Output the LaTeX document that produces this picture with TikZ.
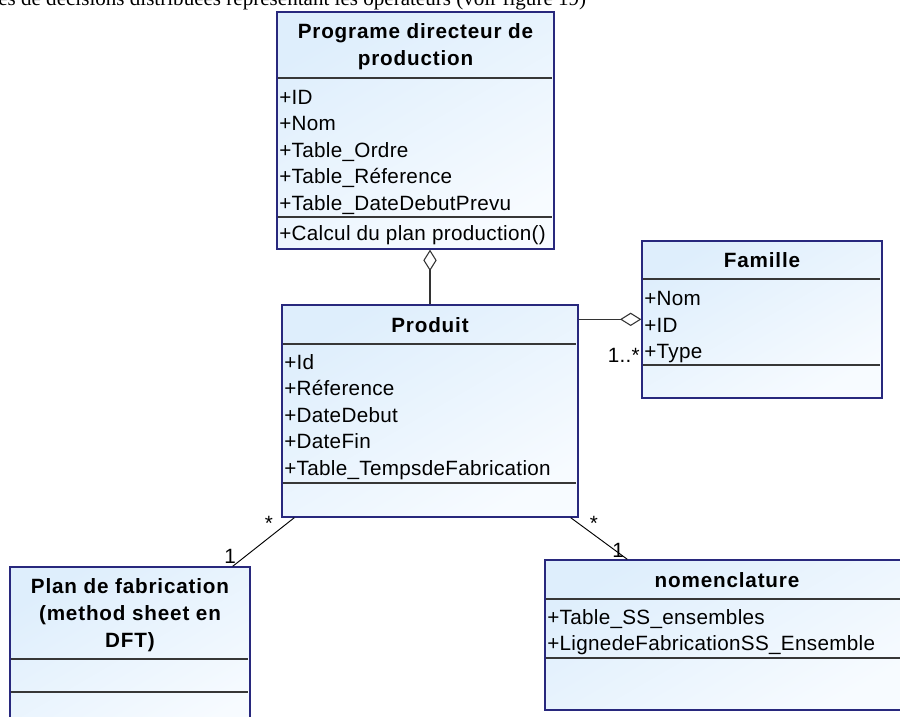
\documentclass[tikz,border=0pt]{standalone}
\usepackage{fontspec}
\setmainfont{Liberation Sans}
\newfontfamily\umlfont{Liberation Sans}[LetterSpace=1.5]
\newfontfamily\umltitlefont{Liberation Sans}[LetterSpace=4]
\newfontfamily\pagefont{Liberation Serif}
\usetikzlibrary{arrows.meta, fit, positioning}
\definecolor{boxline}{RGB}{40,40,125}
\definecolor{boxtop}{RGB}{222,238,252}
\definecolor{boxbot}{RGB}{247,251,255}
\definecolor{sepgray}{RGB}{55,55,55}

\begin{document}
\begin{tikzpicture}[
    x=0.75pt, y=-0.75pt,
    classbox/.style={
        draw=boxline, line width=1pt,
        top color=boxtop, bottom color=boxbot, shading angle=30,
        inner sep=0pt
    },
    classtitle/.style={anchor=base, align=center, inner sep=0pt,
        font=\umltitlefont\bfseries\fontsize{15.5}{19.9}\selectfont},
    attr/.style={anchor=base west, inner sep=0pt,
        font=\umlfont\fontsize{15.5}{19.9}\selectfont},
    mult/.style={inner sep=0pt, font=\umlfont\fontsize{15.5}{19.9}\selectfont},
    sepline/.style={draw=sepgray, line width=1pt, shorten <=1pt, shorten >=2pt},
    aggr/.style={-{Diamond[open, length=16pt, width=10pt]}, line width=0.8pt, draw=black!80},
    assoc/.style={line width=0.7pt}
]
\useasboundingbox (0,0) rectangle (900,717);

% texte de la page (coupe en haut)
\node[anchor=base west, inner sep=0pt, font=\pagefont\fontsize{15.8}{18}\selectfont]
    (pagetext) at (-2,6) {es de décisions distribuées représentant les opérateurs (voir figure 19)};

% Classe Programe directeur de production
\node[classbox, fit={(277,12) (554,249)}] (programe) {};
\node[classtitle] (programe-t) at (415.5,65) {Programe directeur de\\production};
\draw[sepline] (programe.west |- 0,78) -- (programe.east |- 0,78);
\foreach \txt [count=\i] in {+ID, +Nom, +Table\_Ordre, +Table\_Réference, +Table\_DateDebutPrevu}
    \node[attr] (programe-a\i) at (279,{104+26.5*(\i-1)}) {\txt};
\draw[sepline] (programe.west |- 0,217) -- (programe.east |- 0,217);
\node[attr] (programe-op) at (279,240) {+Calcul du plan production()};

% Classe Produit
\node[classbox, fit={(282,305) (578,517)}] (produit) {};
\node[classtitle] (produit-t) at (430,332) {Produit};
\draw[sepline] (produit.west |- 0,344) -- (produit.east |- 0,344);
\foreach \txt [count=\i] in {+Id, +Réference, +DateDebut, +DateFin, +Table\_TempsdeFabrication}
    \node[attr] (produit-a\i) at (284,{369+26.5*(\i-1)}) {\txt};
\draw[sepline] (produit.west |- 0,483) -- (produit.east |- 0,483);

% Classe Famille
\node[classbox, fit={(642,241) (882,398)}] (famille) {};
\node[classtitle] (famille-t) at (762,267) {Famille};
\draw[sepline] (famille.west |- 0,279) -- (famille.east |- 0,279);
\foreach \txt [count=\i] in {+Nom, +ID, +Type}
    \node[attr] (famille-a\i) at (644,{305.5+26.5*(\i-1)}) {\txt};
\draw[sepline] (famille.west |- 0,365) -- (famille.east |- 0,365);

% Classe Plan de fabrication
\node[classbox, fit={(10,567) (250,740)}] (plan) {};
\node[classtitle] (plan-t) at (130,647) {Plan de fabrication\\(method sheet en\\DFT)};
\draw[sepline] (plan.west |- 0,659) -- (plan.east |- 0,659);
\draw[sepline] (plan.west |- 0,692) -- (plan.east |- 0,692);

% Classe nomenclature
\node[classbox, fit={(545,560) (909,710)}] (nomenclature) {};
\node[classtitle] (nomenclature-t) at (727,587) {nomenclature};
\draw[sepline] (nomenclature.west |- 0,599) -- (nomenclature.east |- 0,599);
\foreach \txt [count=\i] in {+Table\_SS\_ensembles, +LignedeFabricationSS\_Ensemble}
    \node[attr] (nomenclature-a\i) at (547,{624+26*(\i-1)}) {\txt};
\draw[sepline] (nomenclature.west |- 0,658) -- (nomenclature.east |- 0,658);

% Liens
\coordinate (pf) at ([yshift=-11.25pt]produit.north east);
\draw[aggr] (produit.north) -- (produit.north |- programe.south);
\draw[aggr] (pf) -- (pf -| famille.west);
\draw[assoc] ([xshift=9.75pt]produit.south west) -- ([xshift=-13.5pt]plan.north east);
\draw[assoc] ([xshift=-6pt]produit.south east) -- ([xshift=62.25pt]nomenclature.north west);

% Multiplicites
\node[mult, anchor=base] (m-pp) at (269,530) {*};
\node[mult, anchor=base] (m-pl) at (230,563) {1};
\node[mult, anchor=base] (m-pn) at (594,530) {*};
\node[mult, anchor=base] (m-nm) at (618,557) {1};
\node[mult, anchor=base east] (m-fa) at (640,362) {1..*};

\end{tikzpicture}
\end{document}
